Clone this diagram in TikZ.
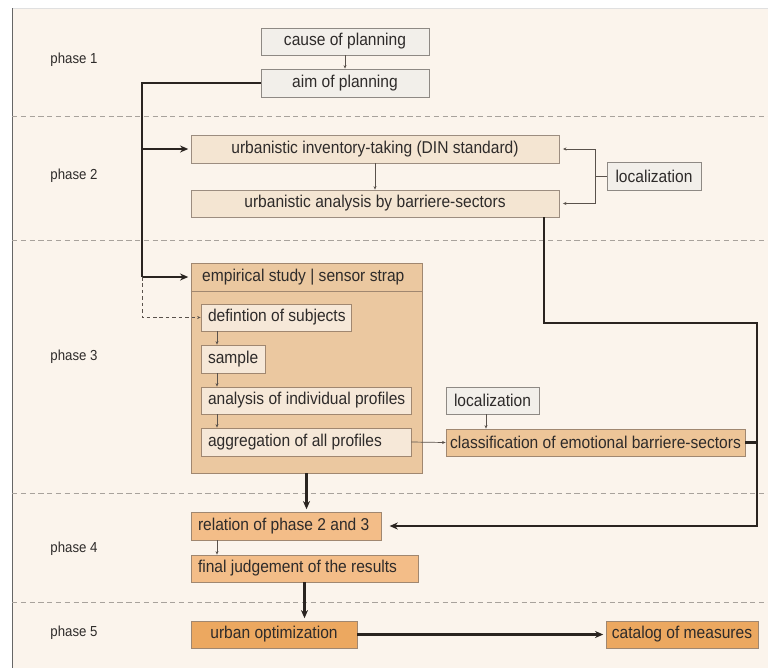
\documentclass[tikz,border=0pt]{standalone}
\usepackage{fontspec}
\setmainfont{Liberation Sans}
\newfontfamily\narrowfont{Liberation Sans}[FakeStretch=0.91]
\usetikzlibrary{arrows.meta,calc}
\definecolor{bgc}{HTML}{FBF4EC}
\definecolor{grayfill}{HTML}{F2EFEA}
\definecolor{grayline}{HTML}{8E8984}
\definecolor{beigefill}{HTML}{F4E5D2}
\definecolor{beigeline}{HTML}{9C8D80}
\definecolor{empfill}{HTML}{EBC8A0}
\definecolor{empline}{HTML}{A08770}
\definecolor{innerfill}{HTML}{F6E8D8}
\definecolor{clsfill}{HTML}{EDC598}
\definecolor{relfill}{HTML}{F3BD88}
\definecolor{urbfill}{HTML}{ECA860}
\definecolor{thickc}{HTML}{2A2420}
\definecolor{thinc}{HTML}{5A524C}
\definecolor{dashc}{HTML}{A8A29C}
\definecolor{txtc}{HTML}{2E2B2A}
\newcommand\mybw{}
\newcommand\mybh{}
\newcommand\bx[8]{%
  \pgfmathsetmacro\mybw{(#4-#2-14)*0.03}%
  \pgfmathsetmacro\mybh{(#5-#3)*0.03}%
  \node[#6, minimum height=\mybh cm] (#1) at ({(#2+#4)/2},{(#3+#5)/2}) {\makebox[\mybw cm][#7]{#8}};}
\begin{document}
\begin{tikzpicture}[x=0.03cm,y=-0.03cm,
  boxbase/.style={draw, line width=0.7pt, inner xsep=0.21cm, inner ysep=0pt, text=txtc, font=\narrowfont\fontsize{14.6}{16}\selectfont},
  graybox/.style={boxbase, fill=grayfill, draw=grayline},
  beigebox/.style={boxbase, fill=beigefill, draw=beigeline},
  empbox/.style={boxbase, fill=empfill, draw=empline},
  innerbox/.style={boxbase, fill=innerfill, draw=empline},
  clsbox/.style={boxbase, fill=clsfill, draw=empline},
  relbox/.style={boxbase, fill=relfill, draw=empline},
  urbbox/.style={boxbase, fill=urbfill, draw=empline},
  phaselbl/.style={text=txtc, font=\narrowfont\fontsize{12.4}{14}\selectfont},
  thickline/.style={draw=thickc, line width=1.9pt},
  thickarrow/.style={thickline, -{Stealth[length=7pt,width=6pt]}, shorten >=2pt},
  thinline/.style={draw=thinc, line width=0.6pt},
  thinarrow/.style={thinline, -{Stealth[length=3pt,width=2.6pt]}},
  dasharrow/.style={draw=thinc, line width=0.6pt, dash pattern=on 3pt off 2.5pt, -{Stealth[length=3pt,width=2.6pt]}},
  sepline/.style={draw=dashc, line width=0.8pt, dash pattern=on 4.5pt off 3pt}
]
\useasboundingbox (0,0) rectangle (768,668);
\fill[white] (0,0) rectangle (768,668);
\fill[bgc] (12,8) rectangle (768,668);
\draw[draw=black!12, line width=0.5pt] (12,8) -- (768,8);
\draw[draw=black!60, line width=0.8pt] (12,8) -- (12,668);

% phase separators
\coordinate (s1l) at (12,116); \coordinate (s1r) at (768,116);
\coordinate (s2l) at (12,240); \coordinate (s2r) at (768,240);
\coordinate (s3l) at (12,493); \coordinate (s3r) at (768,493);
\coordinate (s4l) at (12,602); \coordinate (s4r) at (768,602);
\draw[sepline] (s1l) -- (s1r);
\draw[sepline] (s2l) -- (s2r);
\draw[sepline] (s3l) -- (s3r);
\draw[sepline] (s4l) -- (s4r);

% phase labels
\node[phaselbl] (p1) at (74,60) {phase 1};
\node[phaselbl] (p2) at (74,176) {phase 2};
\node[phaselbl] (p3) at (74,357) {phase 3};
\node[phaselbl] (p4) at (74,549) {phase 4};
\node[phaselbl] (p5) at (74,633) {phase 5};

% phase 1
\bx{cause}{261}{28}{429}{55}{graybox}{c}{cause of planning}
\bx{aim}{261}{69}{429}{97}{graybox}{c}{aim of planning}

% phase 2
\bx{inv}{191}{135}{559}{163}{beigebox}{c}{urbanistic inventory-taking (DIN standard)}
\bx{anal}{191}{190}{559}{217}{beigebox}{c}{urbanistic analysis by barriere-sectors}
\bx{loca}{607}{162}{701}{190}{graybox}{c}{localization}

% phase 3
\bx{emp}{191}{263}{422}{473}{empbox}{l}{}
\node[text=txtc, font=\narrowfont\fontsize{14.6}{16}\selectfont, anchor=west, inner sep=0pt] (emphead) at (202,277) {empirical study | sensor strap};
\coordinate (hl) at (0,291);
\draw[draw=empline, line width=0.7pt] (emp.west |- hl) -- (emp.east |- hl);
\bx{def}{201}{304}{351}{331}{innerbox}{l}{defintion of subjects}
\bx{samp}{201}{345}{265}{373}{innerbox}{l}{sample}
\bx{indiv}{201}{387}{411}{414}{innerbox}{l}{analysis of individual profiles}
\bx{aggr}{201}{428}{411}{456}{innerbox}{l}{aggregation of all profiles}
\bx{locb}{446}{387}{539}{414}{graybox}{c}{localization}
\bx{cls}{446}{429}{745}{456}{clsbox}{c}{classification of emotional barriere-sectors}

% phase 4
\bx{rel}{191}{512}{381}{540}{relbox}{l}{relation of phase 2 and 3}
\bx{fin}{191}{555}{418}{582}{relbox}{l}{final judgement of the results}

% phase 5
\bx{urb}{191}{621}{357}{648}{urbbox}{c}{urban optimization}
\bx{cat}{606}{621}{758}{648}{urbbox}{c}{catalog of measures}

% helper coordinates
\coordinate (trunk) at (142,0);
\coordinate (ax) at (217,0);
\coordinate (brk) at (595,0);
\coordinate (dropx) at (544,0);
\coordinate (ry) at (0,323);
\coordinate (rx) at (757,0);
\coordinate (arrL) at (486,0);

% thin arrows
\draw[thinarrow] (cause) -- (aim);
\draw[thinarrow] (inv) -- (anal);
\draw[thinarrow] (def.south -| ax) -- (samp.north -| ax);
\draw[thinarrow] (samp.south -| ax) -- (indiv.north -| ax);
\draw[thinarrow] (indiv.south -| ax) -- (aggr.north -| ax);
\draw[thinarrow] (rel.south -| ax) -- (fin.north -| ax);
\draw[thinarrow] (aggr.east) -- (cls.west);
\draw[thinarrow] (locb.south -| arrL) -- (cls.north -| arrL);

% localization bracket
\draw[thinline] (loca.west) -- (loca.west -| brk);
\draw[thinarrow, shorten >=3pt] (brk |- inv.east) -- (inv.east);
\draw[thinarrow, shorten >=3pt] (brk |- anal.east) -- (anal.east);
\draw[thinline] (brk |- inv.east) -- (brk |- anal.east);

% thick trunk on the left
\draw[thickline] (aim.west) -- (aim.west -| trunk) -- (trunk |- emphead);
\draw[thickarrow] (trunk |- inv.west) -- (inv.west);
\draw[thickarrow] (trunk |- emphead) -- (emp.west |- emphead);
\draw[dasharrow] (trunk |- emphead) -- (trunk |- def.west) -- (def.west);

% thick line on the right
\draw[thickarrow, shorten >=7pt] (anal.south -| dropx) -- (dropx |- ry) -- (rx |- ry) -- (rx |- rel.east) -- (rel.east);
\draw[thickline] (cls.east) -- (cls.east -| rx);

% thick downward arrows
\draw[thickarrow] (emp.south) -- (emp.south |- rel.north);
\draw[thickarrow] (fin.south) -- (fin.south |- urb.north);
\draw[thickarrow] (urb.east) -- (cat.west);
\end{tikzpicture}
\end{document}
